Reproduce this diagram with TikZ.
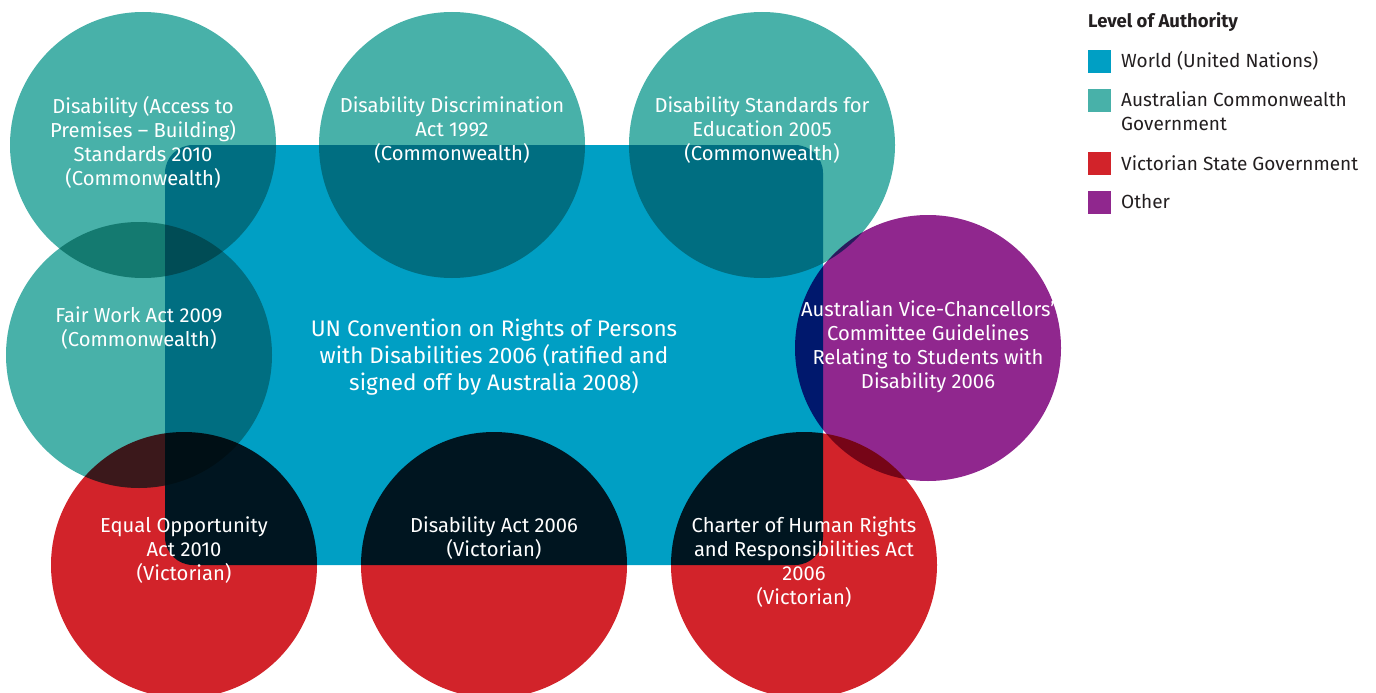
\documentclass[tikz,border=0pt]{standalone}
\usepackage{fontspec}
\setmainfont{Fira Sans}
\definecolor{unblue}{RGB}{0,159,196}
\definecolor{cwteal}{RGB}{72,177,169}
\definecolor{vicred}{RGB}{210,35,42}
\definecolor{othpurple}{RGB}{144,39,142}
\definecolor{legtext}{RGB}{35,31,32}
\tikzset{
  disc/.style={circle, minimum size=266pt, inner sep=0pt, draw=none},
  teal disc/.style={disc, fill=cwteal},
  red disc/.style={disc, fill=vicred},
  purple disc/.style={disc, fill=othpurple},
  ctext/.style={text=white, align=center, font=\fontsize{20.2}{24}\selectfont, inner sep=0pt},
  bigtext/.style={text=white, align=center, font=\fontsize{22.5}{27}\selectfont, inner sep=0pt},
  legbox/.style={fill=#1, minimum size=23pt, inner sep=0pt, anchor=north west},
  legtxt/.style={text=legtext, anchor=west, align=left, font=\fontsize{19}{24}\selectfont, inner sep=0pt},
}
\begin{document}
\begin{tikzpicture}[x=1pt,y=-1pt]
\useasboundingbox (0,0) rectangle (1376,693);
\begin{scope}[blend mode=multiply]
  \fill[unblue, rounded corners=28pt] (165,145) rectangle (823,565);
  \node[teal disc] (c1) at (143,145) {};
  \node[teal disc] (c2) at (452,145) {};
  \node[teal disc] (c3) at (762,145) {};
  \node[teal disc] (c4) at (139,355) {};
  \node[purple disc] (c5) at (928,348) {};
  \node[red disc] (c6) at (184,565) {};
  \node[red disc] (c7) at (494,565) {};
  \node[red disc] (c8) at (804,565) {};
\end{scope}
\node[ctext] (t1) at (143,142) {Disability (Access to\\Premises -- Building)\\Standards 2010\\(Commonwealth)};
\node[ctext] (t2) at (452,130) {Disability Discrimination\\Act 1992\\(Commonwealth)};
\node[ctext] (t3) at (762,130) {Disability Standards for\\Education 2005\\(Commonwealth)};
\node[ctext] (t4) at (139,328) {Fair Work Act 2009\\(Commonwealth)};
\node[bigtext] (t0) at (494,357) {UN Convention on Rights of Persons\\with Disabilities 2006 (ratified and\\signed off by Australia 2008)};
\node[ctext] (t5) at (928,347) {Australian Vice-Chancellors'\\Committee Guidelines\\Relating to Students with\\Disability 2006};
\node[ctext] (t6) at (184,550) {Equal Opportunity\\Act 2010\\(Victorian)};
\node[ctext] (t7) at (494,538) {Disability Act 2006\\(Victorian)};
\node[ctext] (t8) at (804,562) {Charter of Human Rights\\and Responsibilities Act\\2006\\(Victorian)};
% legend
\node[text=legtext, anchor=west, inner sep=0pt, font=\fontsize{18.5}{22}\selectfont\bfseries] (lt) at (1088,22) {Level of Authority};
\node[legbox=unblue] (l1) at (1088,50) {};
\node[legbox=cwteal] (l2) at (1088,89) {};
\node[legbox=vicred] (l3) at (1088,152) {};
\node[legbox=othpurple] (l4) at (1088,191) {};
\node[legtxt] (lx1) at (1121,61) {World (United Nations)};
\node[legtxt, anchor=north west] (lx2) at (1121,91) {Australian Commonwealth\\Government};
\node[legtxt] (lx3) at (1121,163) {Victorian State Government};
\node[legtxt] (lx4) at (1121,202) {Other};
\end{tikzpicture}
\end{document}
